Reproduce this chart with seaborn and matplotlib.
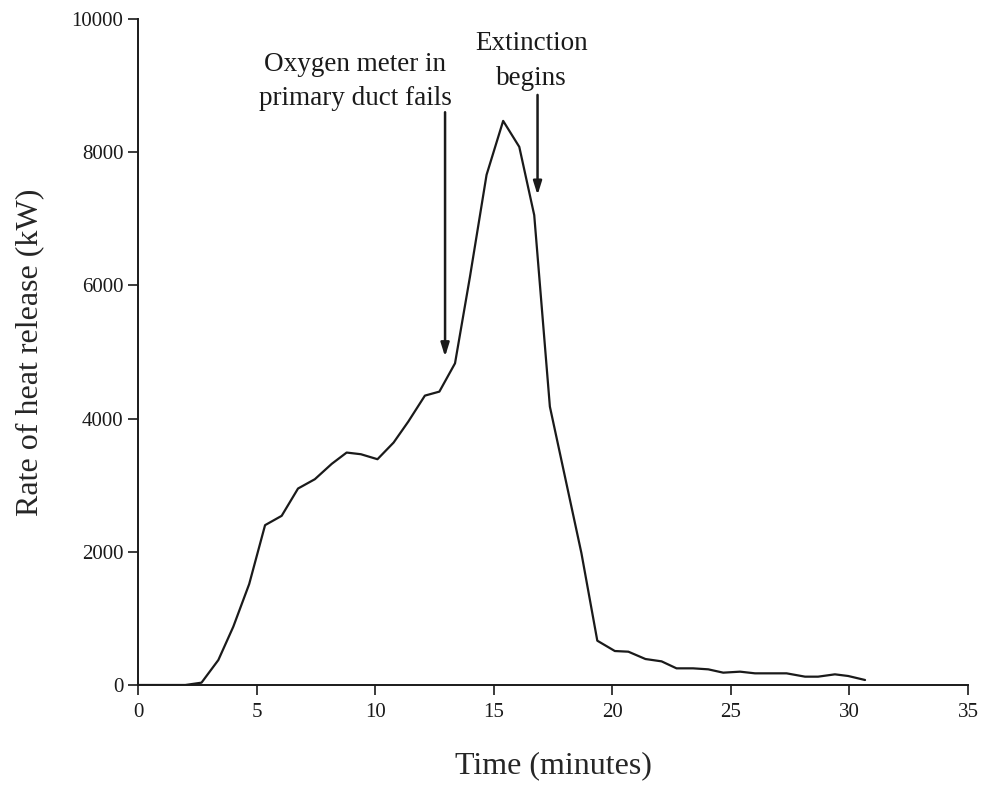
import matplotlib
matplotlib.use("Agg")
import matplotlib.pyplot as plt
import seaborn as sns
import pandas as pd

# time (minutes) and rate of heat release (kW)
time_min = [0, 2.0, 2.68, 3.39, 4.02, 4.69, 5.36, 6.06, 6.75, 7.46, 8.17, 8.8,
            9.4, 10.1, 10.78, 11.4, 12.1, 12.71, 13.37, 14.0, 14.7, 15.4, 16.08,
            16.71, 17.37, 18.7, 19.37, 20.11, 20.68, 21.4, 22.08, 22.71, 23.41,
            24.05, 24.68, 25.39, 26.02, 26.65, 27.35, 28.13, 28.68, 29.39,
            29.95, 30.66]
hrr_kw = [0, 0, 35, 375, 875, 1515, 2400, 2540, 2950, 3090, 3320, 3490,
          3465, 3390, 3640, 3955, 4345, 4405, 4830, 6130, 7660, 8470, 8080,
          7055, 4180, 1980, 665, 510, 500, 390, 355, 250, 250,
          235, 185, 200, 175, 175, 175, 125, 125, 160,
          135, 75]

x_ticks = [0, 5, 10, 15, 20, 25, 30, 35]
y_ticks = [0, 2000, 4000, 6000, 8000, 10000]

# annotations: text, text position, arrow top, arrow tip
notes = [
    ("Oxygen meter in\nprimary duct fails", (9.15, 9060), (12.95, 8600), (12.95, 4930)),
    ("Extinction\nbegins", (16.6, 9370), (16.85, 8860), (16.85, 7357)),
]

sns.set_style("ticks")
plt.rcParams['font.family'] = ['Liberation Serif', 'DejaVu Serif']

df = pd.DataFrame({"time": time_min, "hrr": hrr_kw})

fig = plt.figure(figsize=(9.84, 7.85), dpi=100)
ax = fig.add_axes([0.1402, 0.1274, 0.8435, 0.8484])
sns.lineplot(data=df, x="time", y="hrr", color="#1a1a1a", linewidth=1.6, ax=ax)

ax.set_xlim(0, 35)
ax.set_ylim(0, 10000)
ax.set_xticks(x_ticks)
ax.set_yticks(y_ticks)
ax.tick_params(axis="both", direction="out", length=7, width=1.2,
               labelsize=15, colors="#1a1a1a")
ax.tick_params(axis="x", pad=6)
for side in ["left", "bottom"]:
    ax.spines[side].set_linewidth(1.4)
    ax.spines[side].set_color("#1a1a1a")
sns.despine(ax=ax)

ax.set_xlabel("Time (minutes)", fontsize=23, labelpad=21)
ax.set_ylabel("Rate of heat release (kW)", fontsize=23, labelpad=20)

for text, pos, top, tip in notes:
    ax.text(pos[0], pos[1], text, ha="center", va="center", fontsize=19.5,
            color="#1a1a1a", linespacing=1.5)
    ax.annotate("", xy=tip, xytext=top,
                arrowprops=dict(arrowstyle="-|>,head_length=0.8,head_width=0.25",
                                color="#1a1a1a", lw=1.8, shrinkA=0, shrinkB=0))

fig.savefig("out.png", dpi=100)
